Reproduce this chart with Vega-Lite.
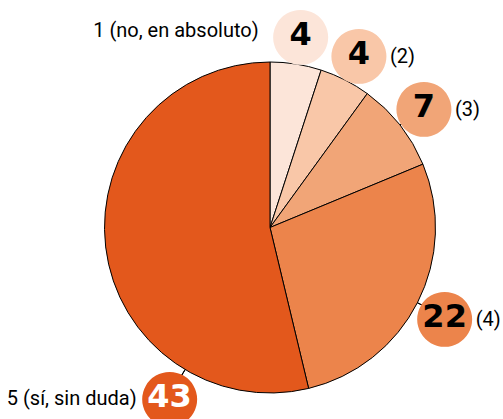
{
  "$schema": "https://vega.github.io/schema/vega-lite/v6.json",
  "autosize": "none",
  "width": 466,
  "height": 383,
  "padding": {"left": 37, "top": 36, "right": 0, "bottom": 0},
  "background": "white",
  "config": {"view": {"stroke": null}},
  "data": {
    "values": [
      {"cat": 1, "n": 4, "label": "1 (no, en absoluto)"},
      {"cat": 2, "n": 4, "label": "(2)"},
      {"cat": 3, "n": 7, "label": "(3)"},
      {"cat": 4, "n": 22, "label": "(4)"},
      {"cat": 5, "n": 43, "label": "5 (sí, sin duda)"}
    ]
  },
  "transform": [
    {"window": [{"op": "sum", "field": "n", "as": "cum"}], "sort": [{"field": "cat", "order": "ascending"}], "frame": [null, 0]},
    {"calculate": "datum.cat === 5 ? datum.cum - 0.771 * datum.n : datum.cum - datum.n / 2", "as": "mid"},
    {"calculate": "datum.mid + 0.02", "as": "mid2"}
  ],
  "resolve": {"scale": {"color": "shared", "theta": "shared"}},
  "layer": [
    {
      "mark": {"type": "arc", "radius": 165.5, "stroke": "black", "strokeWidth": 1},
      "encoding": {
        "theta": {"field": "n", "type": "quantitative", "stack": true},
        "order": {"field": "cat", "type": "ordinal", "sort": "ascending"},
        "color": {
          "field": "cat", "type": "ordinal", "legend": null,
          "scale": {"domain": [1, 2, 3, 4, 5], "range": ["#FCE5D9", "#F9C7A8", "#F1A577", "#EC844B", "#E3581C"]}
        }
      }
    },
    {
      "mark": {"type": "arc", "radius": 172, "radius2": 165.5, "stroke": "black", "strokeWidth": 1, "fill": "black"},
      "encoding": {
        "theta": {"field": "mid", "type": "quantitative", "stack": null},
        "theta2": {"field": "mid2"}
      }
    },
    {
      "mark": {"type": "text", "radius": 196, "fontSize": 72, "font": "DejaVu Sans", "baseline": "middle", "align": "center", "dy": 0},
      "encoding": {
        "theta": {"field": "mid", "type": "quantitative", "stack": null},
        "text": {"value": "●"},
        "color": {"field": "cat", "type": "ordinal", "legend": null}
      }
    },
    {
      "mark": {"type": "text", "radius": 196, "fontSize": 32, "fontWeight": "bold", "font": "DejaVu Sans", "baseline": "middle", "align": "center", "dy": 1},
      "encoding": {
        "theta": {"field": "mid", "type": "quantitative", "stack": null},
        "text": {"field": "n", "type": "quantitative"},
        "color": {"condition": {"test": "datum.cat === 5", "value": "white"}, "value": "black"}
      }
    },
    {
      "transform": [{"filter": "datum.cat >= 2 && datum.cat <= 4"}],
      "mark": {"type": "text", "radius": 196, "fontSize": 20, "font": "Roboto", "baseline": "middle", "align": "left", "dx": 31, "dy": 4, "color": "black"},
      "encoding": {
        "theta": {"field": "mid", "type": "quantitative", "stack": null},
        "text": {"field": "label"}
      }
    },
    {
      "transform": [{"filter": "datum.cat === 1"}],
      "mark": {"type": "text", "radius": 196, "fontSize": 20, "font": "Roboto", "baseline": "middle", "align": "right", "dx": -42, "dy": -3, "color": "black"},
      "encoding": {
        "theta": {"field": "mid", "type": "quantitative", "stack": null},
        "text": {"field": "label"}
      }
    },
    {
      "transform": [{"filter": "datum.cat === 5"}],
      "mark": {"type": "text", "radius": 196, "fontSize": 20, "font": "Roboto", "baseline": "middle", "align": "right", "dx": -33, "dy": 3, "color": "black"},
      "encoding": {
        "theta": {"field": "mid", "type": "quantitative", "stack": null},
        "text": {"field": "label"}
      }
    }
  ]
}
